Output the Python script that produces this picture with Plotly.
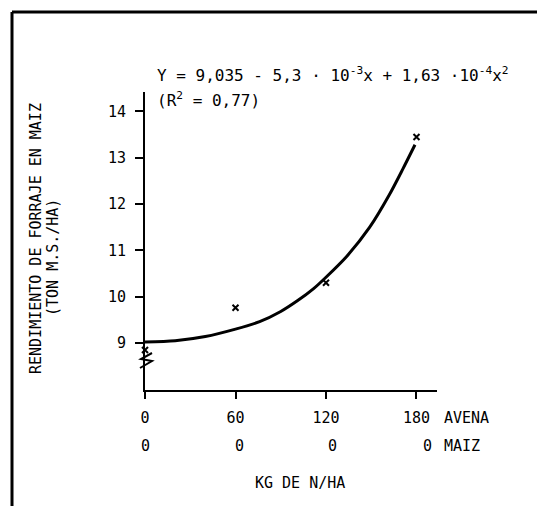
import plotly.graph_objects as go

# ---- data ----
n_kg = [0, 60, 120, 180]
maiz_n = ["0", "0", "0", "0"]
observed = [8.85, 9.76, 10.30, 13.45]
curve_x = [0, 20, 40, 60, 76, 90, 101, 112, 120, 134, 149, 162, 171, 179]
curve_y = [9.02, 9.05, 9.14, 9.30, 9.46, 9.68, 9.91, 10.18, 10.42, 10.88, 11.50, 12.20, 12.76, 13.28]
y_ticks = [9, 10, 11, 12, 13, 14]
x_ticks = [0, 60, 120, 180]

FONT = "DejaVu Sans Mono"
OFF = 8  # default body margin of the page
W, H = 545, 506
# target pixel positions (window coordinates)
PL, PR, PT, PB = 145, 437, 92, 390
L, T = PL - OFF, PT - OFF
R, B = W - (PR - OFF), H - (PB - OFF)
PW, PH = PR - PL, PB - PT


def px(x):
    return (x - PL) / PW


def py(y):
    return (PB - y) / PH


fig = go.Figure()
fig.add_trace(go.Scatter(x=curve_x, y=curve_y, mode="lines",
                         line=dict(color="black", width=3, shape="spline", smoothing=0.8),
                         hoverinfo="skip", cliponaxis=False))
fig.add_trace(go.Scatter(x=n_kg, y=observed, mode="markers",
                         marker=dict(symbol="x-thin", size=6, color="black",
                                     line=dict(color="black", width=2)),
                         cliponaxis=False))

annotations = []
shifts = [0, 4, 7, 11]
for xv, lab, s in zip(n_kg, maiz_n, shifts):
    annotations.append(dict(x=xv, y=0, xref="x", yref="paper", text=lab,
                            showarrow=False, yanchor="middle", yshift=-56,
                            xshift=s, font=dict(family=FONT, size=15, color="black")))
annotations.append(dict(x=px(442), y=py(418), xref="paper", yref="paper", text="AVENA",
                        showarrow=False, xanchor="left", yanchor="middle",
                        font=dict(family=FONT, size=15, color="black")))
annotations.append(dict(x=px(442), y=py(446), xref="paper", yref="paper", text="MAIZ",
                        showarrow=False, xanchor="left", yanchor="middle",
                        font=dict(family=FONT, size=15, color="black")))
annotations.append(dict(x=px(300), y=py(483), xref="paper", yref="paper", text="KG DE N/HA",
                        showarrow=False, xanchor="center", yanchor="middle",
                        font=dict(family=FONT, size=15, color="black")))
annotations.append(dict(x=px(36), y=py(239), xref="paper", yref="paper",
                        text="RENDIMIENTO DE FORRAJE EN MAIZ", textangle=-90,
                        showarrow=False, xanchor="center", yanchor="middle",
                        font=dict(family=FONT, size=15, color="black")))
annotations.append(dict(x=px(53), y=py(258), xref="paper", yref="paper",
                        text="(TON M.S./HA)", textangle=-90,
                        showarrow=False, xanchor="center", yanchor="middle",
                        font=dict(family=FONT, size=15, color="black")))
annotations.append(dict(x=px(155), y=py(74), xref="paper", yref="paper",
                        text="Y = 9,035 - 5,3 · 10<sup>-3</sup>x + 1,63 ·10<sup>-4</sup>x<sup>2</sup>",
                        showarrow=False, xanchor="left", yanchor="middle",
                        font=dict(family=FONT, size=16, color="black")))
annotations.append(dict(x=px(155), y=py(100), xref="paper", yref="paper",
                        text="(R<sup>2</sup> = 0,77)",
                        showarrow=False, xanchor="left", yanchor="middle",
                        font=dict(family=FONT, size=16, color="black")))

shapes = [
    dict(type="line", xref="paper", yref="paper", x0=px(12), x1=px(545), y0=py(12), y1=py(12),
         line=dict(color="black", width=3)),
    dict(type="line", xref="paper", yref="paper", x0=px(12), x1=px(12), y0=py(12), y1=py(510),
         line=dict(color="black", width=3)),
    dict(type="path", xref="paper", yref="paper",
         path=(f"M {px(152)},{py(353)} L {px(141)},{py(359)} L {px(152)},{py(361)} "
               f"L {px(140)},{py(368)}"),
         line=dict(color="black", width=2)),
]

fig.update_layout(
    width=W, height=H,
    margin=dict(l=L, r=R, t=T, b=B),
    paper_bgcolor="white", plot_bgcolor="white",
    showlegend=False,
    font=dict(family=FONT, size=15, color="black"),
    annotations=annotations, shapes=shapes,
    xaxis=dict(range=[0, 193.6], tickvals=x_ticks, ticktext=[str(v) for v in x_ticks],
               showline=True, linecolor="black", linewidth=2,
               ticks="outside", ticklen=7, tickwidth=2, tickcolor="black",
               showgrid=False, zeroline=False, ticklabelstandoff=6),
    yaxis=dict(range=[7.985, 14.42], tickvals=y_ticks, ticktext=[str(v) for v in y_ticks],
               showline=True, linecolor="black", linewidth=2,
               ticks="outside", ticklen=8, tickwidth=2, tickcolor="black",
               showgrid=False, zeroline=False, ticklabelstandoff=6),
)

fig.write_html("out.html")
